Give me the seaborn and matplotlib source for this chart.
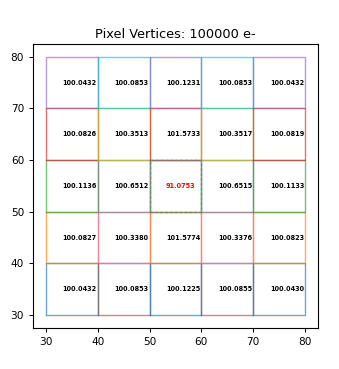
import numpy as np
import pandas as pd
import matplotlib
matplotlib.use("Agg")
import matplotlib.pyplot as plt
import seaborn as sns

# Pixel edges (data units)
x_edges = [30, 40, 50, 60, 70, 80]
y_edges = [30, 40, 50, 60, 70, 80]

# Pixel areas, rows listed from bottom (y 30-40) to top (y 70-80)
areas = [
    [100.0432, 100.0853, 100.1225, 100.0855, 100.0430],
    [100.0827, 100.3380, 101.5774, 100.3376, 100.0823],
    [100.1136, 100.6512, 91.0753, 100.6515, 100.1133],
    [100.0826, 100.3513, 101.5733, 100.3517, 100.0819],
    [100.0432, 100.0853, 100.1231, 100.0853, 100.0432],
]
title = "Pixel Vertices: 100000 e-"
center_ix = (2, 2)  # (column, row) of the illuminated pixel

rows = []
pid = 0
for i in range(5):
    for j in range(5):
        x0, x1 = x_edges[i], x_edges[i + 1]
        y0, y1 = y_edges[j], y_edges[j + 1]
        xs = [x0, x1, x1, x0, x0]
        ys = [y0, y0, y1, y1, y0]
        for k, (xx, yy) in enumerate(zip(xs, ys)):
            rows.append(dict(pixel=pid, order=k, x=xx, y=yy, col=i, row=j))
        pid += 1
df = pd.DataFrame(rows)

fig = plt.figure(figsize=(3.39, 3.69), dpi=100)
ax = fig.add_axes([0.097, 0.111, 0.841, 0.770])

pal = sns.color_palette("tab10", 10)
for p, g in df.groupby("pixel"):
    sns.lineplot(data=g, x="x", y="y", sort=False, estimator=None,
                 color=pal[p % 10], alpha=0.65, lw=1.0, ax=ax, legend=False)

# nominal boundary of the central pixel
ci, cj = center_ix
cx0, cx1 = x_edges[ci], x_edges[ci + 1]
cy0, cy1 = y_edges[cj], y_edges[cj + 1]
sq = pd.DataFrame(dict(x=[cx0, cx1, cx1, cx0, cx0], y=[cy0, cy0, cy1, cy1, cy0]))
sns.lineplot(data=sq, x="x", y="y", sort=False, estimator=None,
             color="gray", ls=(0, (2, 1.5)), lw=1.0, ax=ax, legend=False)

for j in range(5):
    for i in range(5):
        xc = x_edges[i] + 3.2
        yc = (y_edges[j] + y_edges[j + 1]) / 2
        color = "red" if (i, j) == center_ix else "black"
        ax.text(xc, yc, f"{areas[j][i]:.4f}", ha="left", va="center",
                fontsize=4.7, fontweight="bold", color=color)

ax.set_xlim(27.5, 82.5)
ax.set_ylim(27.5, 82.5)
ax.set_xticks([30, 40, 50, 60, 70, 80])
ax.set_yticks([30, 40, 50, 60, 70, 80])
ax.tick_params(labelsize=7.6, length=2.8, width=0.7)
for s in ax.spines.values():
    s.set_linewidth(0.8)
ax.set_xlabel("")
ax.set_ylabel("")
ax.set_title(title, fontsize=9.3, pad=4.5)

fig.savefig("out.png", dpi=100)
